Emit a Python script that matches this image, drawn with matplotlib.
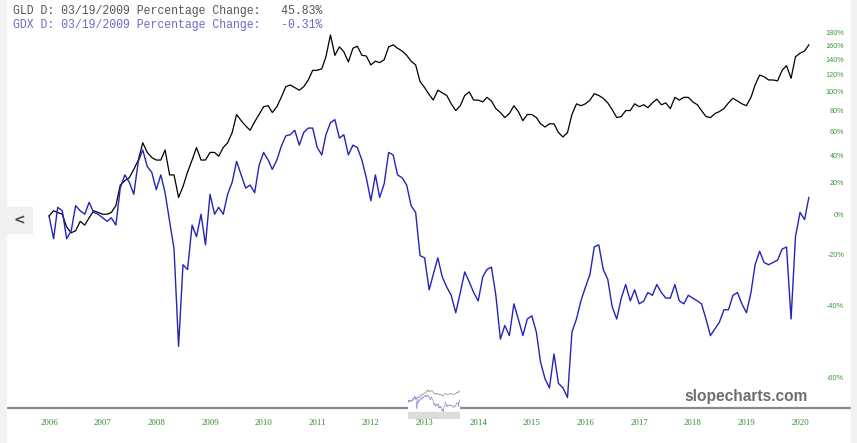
import matplotlib
matplotlib.use('Agg')
import matplotlib.pyplot as plt
import matplotlib.ticker as mticker
from matplotlib.patches import Rectangle
import pandas as pd

# monthly values, % change since Jan 2006
dates = pd.date_range('2006-01-01', periods=171, freq='MS')

gld_pct = [0, 3, 2, 1, -6, -9, -8, -3, -5, -1,
           3, 2, 1, 1, 2, 6, 19, 22, 24, 30,
           37, 51, 43, 39, 37, 37, 45, 26, 26, 11,
           18, 28, 37, 47, 37, 37, 43, 43, 40, 47,
           51, 60, 77, 71, 66, 62, 70, 77, 85, 86,
           79, 85, 95, 107, 109, 106, 103, 107, 115, 127,
           127, 129, 145, 177, 147, 159, 152, 138, 157, 160,
           147, 146, 134, 139, 137, 141, 159, 162, 157, 153,
           147, 139, 134, 113, 106, 98, 92, 103, 100, 97,
           88, 81, 86, 97, 101, 92, 92, 90, 95, 91,
           83, 79, 74, 78, 86, 80, 71, 77, 77, 74,
           68, 65, 68, 68, 60, 56, 60, 77, 88, 86,
           88, 92, 99, 97, 94, 89, 82, 74, 75, 81,
           81, 88, 85, 87, 84, 89, 93, 87, 89, 83,
           95, 92, 95, 95, 90, 87, 81, 75, 74, 78,
           80, 83, 89, 94, 91, 88, 86, 95, 109, 121,
           119, 115, 115, 114, 127, 133, 117, 145, 150, 153, 162]

gdx_pct = [0, -12, 5, 3, -12, -8, 6, 3, 1, 8,
           2, 1, -1, -3, -1, -5, 17, 26, 21, 13,
           36, 45, 32, 28, 16, 26, 14, -3, -17, -52,
           -24, -26, -5, -11, 1, -15, 13, 1, 5, 1,
           13, 21, 36, 26, 17, 19, 14, 33, 43, 37,
           30, 37, 48, 57, 58, 62, 49, 60, 64, 64,
           47, 41, 58, 69, 72, 55, 58, 41, 49, 47,
           37, 24, 9, 26, 11, 20, 43, 41, 26, 24,
           19, 6, 2, -20, -21, -34, -28, -21, -29, -33,
           -36, -42, -35, -27, -31, -35, -38, -29, -26, -25,
           -36, -50, -46, -49, -39, -44, -49, -44, -43, -48,
           -56, -60, -62, -54, -61, -62, -64, -48, -44, -38,
           -33, -28, -16, -15, -26, -30, -40, -44, -37, -32,
           -38, -34, -39, -38, -35, -36, -32, -35, -37, -37,
           -32, -38, -39, -36, -37, -38, -39, -44, -49, -47,
           -45, -41, -41, -36, -35, -39, -42, -35, -24, -18,
           -23, -24, -23, -22, -17, -16, -44, -11, 2, -2, 11]

years = list(range(2006, 2021))
y_ticks = [180, 160, 140, 120, 100, 80, 60, 40, 20, 0, -20, -40, -60]

gld = pd.Series(gld_pct, index=dates)
gdx = pd.Series(gdx_pct, index=dates)

W, H = 857, 443
fig = plt.figure(figsize=(W / 100, H / 100), dpi=100)
fig.patch.set_facecolor('white')

# grey page margins left and right
fig.patches.append(Rectangle((0, 0), 6 / W, 1, transform=fig.transFigure,
                             color='#f2f2f2', zorder=0))
fig.patches.append(Rectangle((851 / W, 0), 6 / W, 1, transform=fig.transFigure,
                             color='#f2f2f2', zorder=0))

ax = fig.add_axes([6 / W, 35 / H, 845 / W, 408 / H])
ax.plot(gld.index, 1 + gld / 100, color='black', lw=0.9)
ax.plot(gdx.index, 1 + gdx / 100, color='#2424b8', lw=1.0)

ax.set_yscale('log')
ax.set_ylim(0.3394, 3.372)
ax.set_xlim(pd.Timestamp('2005-03-14'), pd.Timestamp('2020-12-13'))
ax.yaxis.set_major_locator(mticker.NullLocator())
ax.yaxis.set_minor_locator(mticker.NullLocator())

ax.set_xticks([pd.Timestamp(f'{y}-01-01') for y in years])
ax.set_xticklabels([str(y) for y in years])
ax.tick_params(axis='x', length=0, pad=8, labelsize=6.3, labelcolor='#2e8b2e')
for lbl in ax.get_xticklabels():
    lbl.set_fontfamily('Liberation Serif')

for v in y_ticks:
    ax.text(0.9917, 1 + v / 100, f'{v}%', transform=ax.get_yaxis_transform(),
            ha='right', va='center', fontsize=5.2, color='#3a9a3a',
            family='Liberation Sans')

for s in ['top', 'left', 'right']:
    ax.spines[s].set_visible(False)
ax.spines['bottom'].set_color('#8a8a8a')
ax.spines['bottom'].set_linewidth(1.6)

# header readout
fig.text(13 / W, 1 - 11 / H, 'GLD D: 03/19/2009 Percentage Change:   45.83%',
         family='Liberation Mono', fontsize=8.3, color='#555555', va='center')
fig.text(13 / W, 1 - 25 / H, 'GDX D: 03/19/2009 Percentage Change:   -0.31%',
         family='Liberation Mono', fontsize=8.3, color='#6a6ac8', va='center')

# watermark
fig.text(808 / W, 1 - 396 / H, 'slopecharts.com', ha='right', va='center',
         family='Liberation Sans', weight='bold', fontsize=11.2, color='#6f6f6f')

# left scroll button
fig.patches.append(Rectangle((2 / W, 1 - 233 / H), 30 / W, 26 / H,
                             transform=fig.transFigure, color='#f0f0f0', zorder=1))
fig.text(19 / W, 1 - 220 / H, '<', ha='center', va='center', weight='bold',
         fontsize=10, color='#444444')

# small overview thumbnail
axins = fig.add_axes([408 / W, 24 / H, 52 / W, 30 / H])
axins.plot(gld.index, 1 + gld / 100, color='#999999', lw=0.5)
axins.plot(gdx.index, 1 + gdx / 100, color='#9999dd', lw=0.5)
axins.set_yscale('log')
axins.set_ylim(0.18, 3.0)
axins.set_xlim(gld.index[0], gld.index[-1])
axins.add_patch(Rectangle((0, 0), 1, 0.25, transform=axins.transAxes,
                          color='#dcdcdc'))
axins.set_xticks([])
axins.yaxis.set_major_locator(mticker.NullLocator())
axins.yaxis.set_minor_locator(mticker.NullLocator())
for s in axins.spines.values():
    s.set_visible(False)

fig.savefig('out.png', dpi=100)
